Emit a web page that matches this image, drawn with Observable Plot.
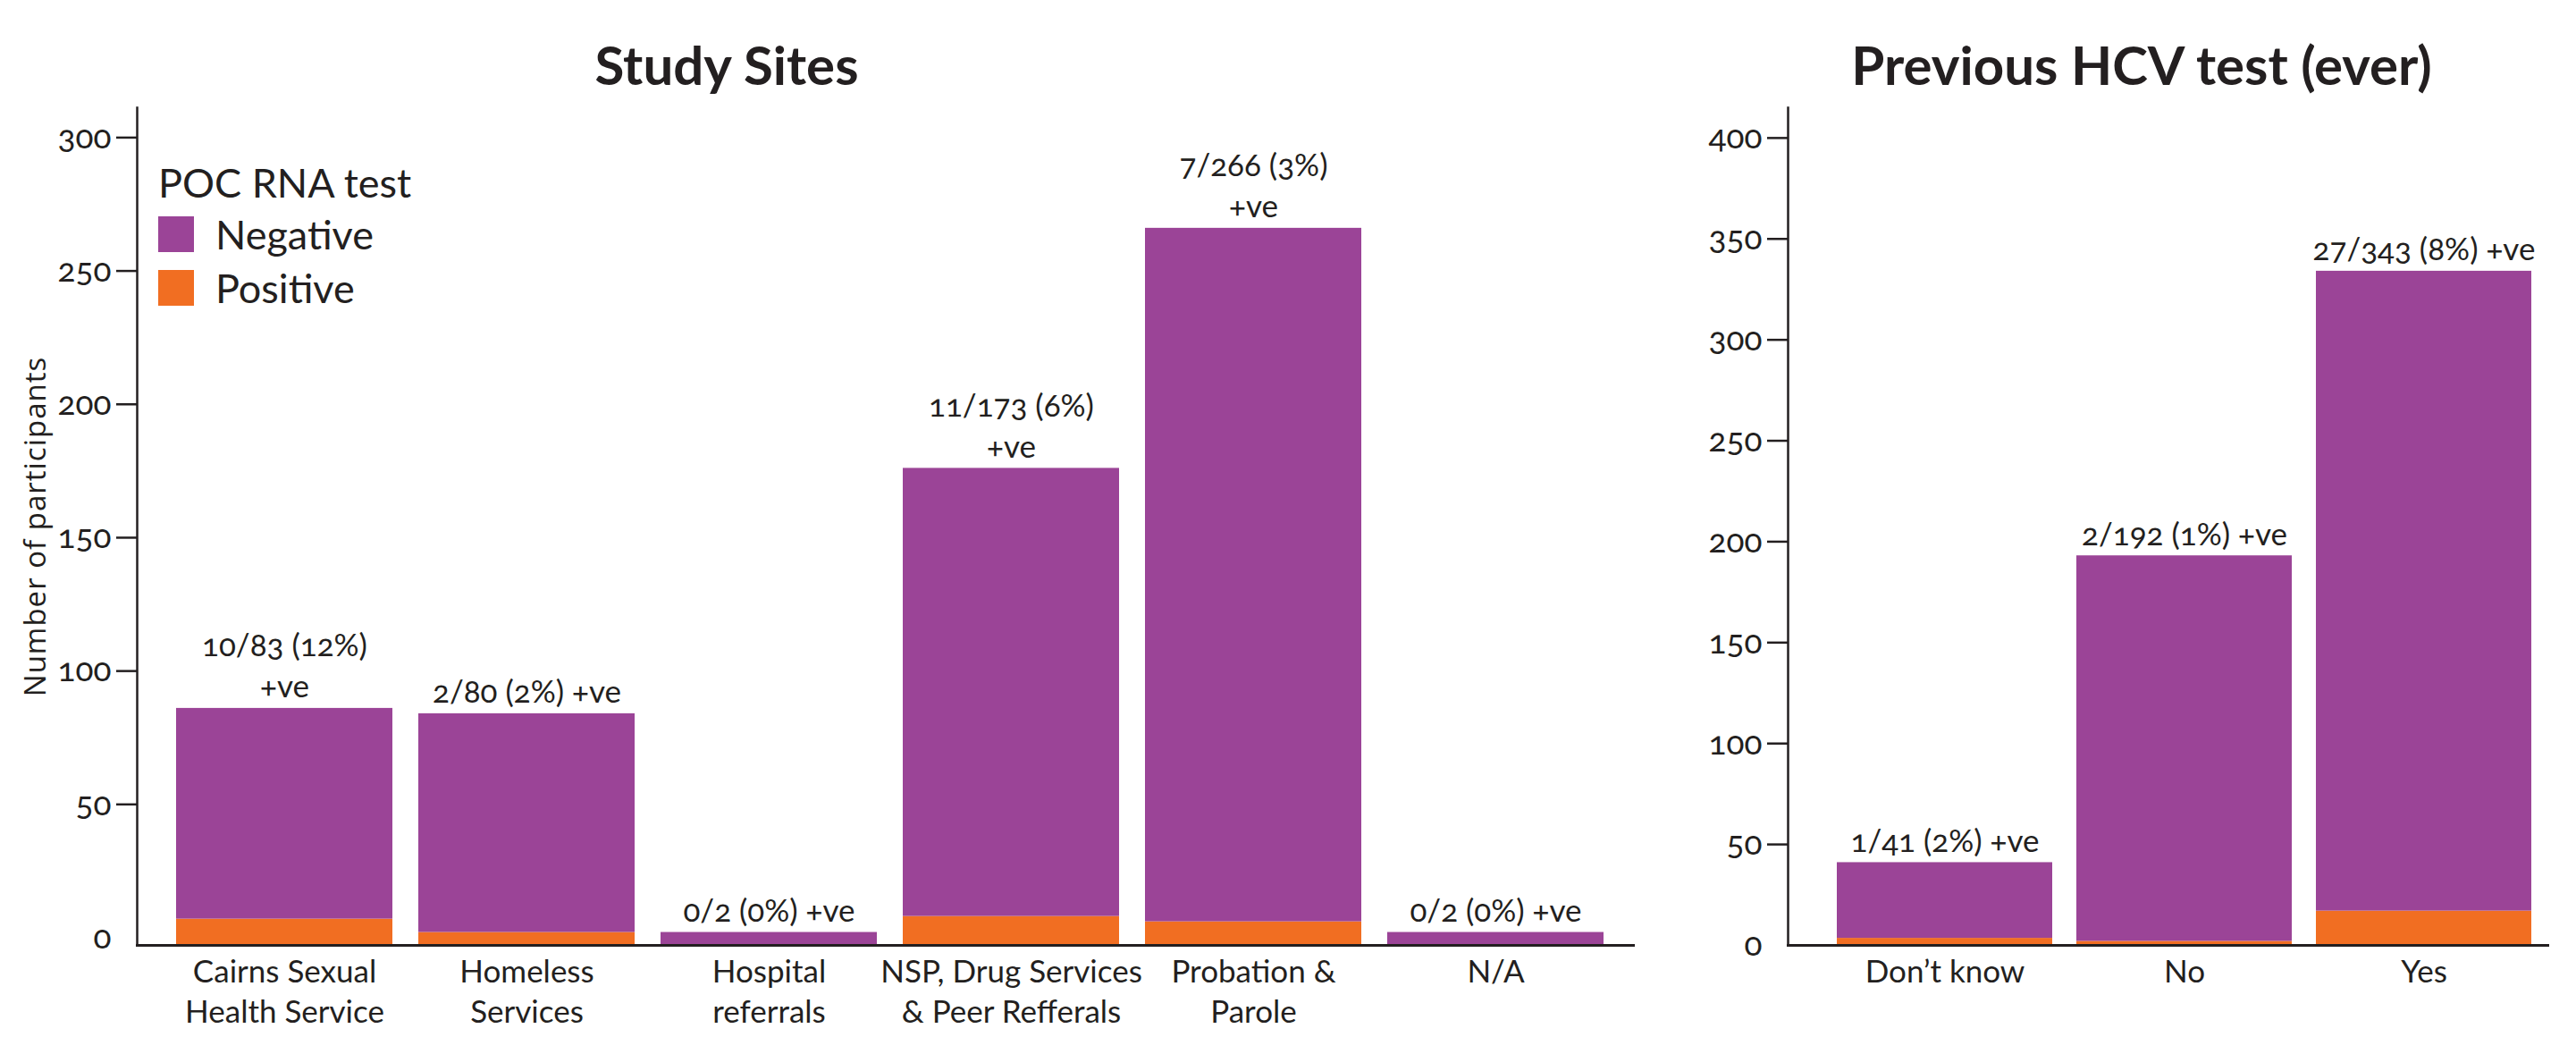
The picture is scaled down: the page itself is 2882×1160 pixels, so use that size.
<!DOCTYPE html>
<html>
<head>
<meta charset="utf-8">
<script src="https://cdn.jsdelivr.net/npm/d3@7"></script>
<script src="https://cdn.jsdelivr.net/npm/@observablehq/plot@0.6"></script>
<style>
  html, body { margin: 0; padding: 0; background: #ffffff; }
  #wrap { position: relative; width: 2882px; height: 1160px; overflow: hidden; font-family: Lato, sans-serif; color: #231f20; }
  .panel { position: absolute; top: 0; }
  .title { position: absolute; top: 42px; font-weight: 700; font-size: 60px; line-height: 1; text-align: center; white-space: nowrap; }
  .legend { position: absolute; left: 177px; top: 182px; font-size: 45px; line-height: 1; }
  .legend .lt { height: 50px; }
  .legend .row { display: flex; align-items: center; height: 60px; }
  .legend .sw { width: 40px; height: 40px; margin-right: 24px; }
</style>
</head>
<body>
<div id="wrap"></div>
<script>
// ---------- data ----------
const sites = ["Cairns Sexual\nHealth Service", "Homeless\nServices", "Hospital\nreferrals",
               "NSP, Drug Services\n& Peer Refferals", "Probation &\nParole", "N/A"];
const siteTotals    = [86, 84, 2, 176, 266, 2];
const sitePositives = [7, 2, 0, 8, 6, 0];
const siteLabels = ["10/83 (12%)\n+ve", "2/80 (2%) +ve", "0/2 (0%) +ve",
                    "11/173 (6%)\n+ve", "7/266 (3%)\n+ve", "0/2 (0%) +ve"];

const hcvGroups    = ["Don\u2019t know", "No", "Yes"];
const hcvTotals    = [41, 193, 334];
const hcvPositives = [3.5, 2, 17];
const hcvLabels    = ["1/41 (2%) +ve", "2/192 (1%) +ve", "27/343 (8%) +ve"];

const statusKeys   = ["Negative", "Positive"];
const statusColors = ["#9b4497", "#f16e22"];

const yTicksSites = [0, 50, 100, 150, 200, 250, 300];
const yTicksHcv   = [0, 50, 100, 150, 200, 250, 300, 350, 400];

const titleSites = "Study Sites";
const titleHcv   = "Previous HCV test (ever)";
const yLabelText = "Number of participants";
const legendTitle = "POC RNA test";

// ---------- drawing ----------
const ink = "#231f20";
const wrap = document.getElementById("wrap");

function panel({cats, totals, positives, labels, yDomain, yTicks, width, marginLeft, marginRight,
                paddingInner, paddingOuter, align, yLabel}) {
  const floor = yDomain[0];
  const rows = [];
  cats.forEach((c, i) => {
    if (positives[i] > 0) rows.push({cat: c, status: "Positive", y1: floor, y2: positives[i]});
    rows.push({cat: c, status: "Negative", y1: positives[i] > 0 ? positives[i] : floor, y2: totals[i]});
  });
  const labelRows = cats.map((c, i) => ({cat: c, total: totals[i], label: labels[i]}));
  const marks = [
    Plot.barY(rows, {x: "cat", y1: "y1", y2: "y2", fill: "status"}),
    Plot.frame({anchor: "left", stroke: ink, strokeWidth: 2.5}),
    Plot.frame({anchor: "bottom", stroke: ink, strokeWidth: 3}),
    Plot.axisY({ticks: yTicks.filter(v => v !== 0), tickSize: 23, tickFormat: () => "", strokeWidth: 2.5, label: null}),
    Plot.axisY({ticks: yTicks, tickSize: 0, tickPadding: 29, fontSize: 37, fontVariant: "oldstyle-nums", label: null}),
    Plot.axisX({tickSize: 0, tickPadding: 9, fontSize: 35, lineHeight: 1.29, label: null}),
    Plot.text(labelRows, {x: "cat", y: "total", text: "label", lineAnchor: "bottom", dy: -12,
                          fontSize: 35, lineHeight: 1.32, fontVariant: "oldstyle-nums", fill: ink})
  ];
  if (yLabel) {
    marks.push(Plot.text([yLabel], {text: d => d, frameAnchor: "left", textAnchor: "middle", rotate: -90,
                                    dx: -113, dy: 0, fontSize: 33, fontFamily: "Open Sans", fill: ink}));
  }
  return Plot.plot({
    width, height: 1160,
    marginLeft, marginRight, marginTop: 120, marginBottom: 103,
    style: {fontFamily: "Lato, sans-serif", color: ink, background: "transparent", overflow: "visible"},
    x: {domain: cats, paddingInner, paddingOuter, align, axis: null},
    y: {domain: yDomain, axis: null},
    color: {domain: statusKeys, range: statusColors},
    marks
  });
}

const left = panel({
  cats: sites, totals: siteTotals, positives: sitePositives, labels: siteLabels,
  yDomain: [-2.85, 311.2], yTicks: yTicksSites, width: 1880, marginLeft: 153, marginRight: 53,
  paddingInner: 0.1064, paddingOuter: 0.1367, align: 0.57, yLabel: yLabelText
});
left.classList.add("panel");
left.style.left = "0px";
wrap.appendChild(left);
// slightly widen the axis title's letter spacing
left.querySelectorAll("text").forEach(t => {
  if (t.textContent === yLabelText) t.style.letterSpacing = "1px";
});

const right = panel({
  cats: hcvGroups, totals: hcvTotals, positives: hcvPositives, labels: hcvLabels,
  yDomain: [0, 415], yTicks: yTicksHcv, width: 1002, marginLeft: 120, marginRight: 32,
  paddingInner: 0.1005, paddingOuter: 0.132, align: 0.75, yLabel: null
});
right.classList.add("panel");
right.style.left = "1880px";
wrap.appendChild(right);

// titles
function addTitle(text, center, w) {
  const d = document.createElement("div");
  d.className = "title";
  d.textContent = text;
  d.style.left = (center - w / 2) + "px";
  d.style.width = w + "px";
  wrap.appendChild(d);
}
addTitle(titleSites, 813, 500);
addTitle(titleHcv, 2396, 800);

// legend
const lg = document.createElement("div");
lg.className = "legend";
const lt = document.createElement("div");
lt.className = "lt";
lt.textContent = legendTitle;
lg.appendChild(lt);
statusKeys.forEach((k, i) => {
  const r = document.createElement("div");
  r.className = "row";
  const s = document.createElement("div");
  s.className = "sw";
  s.style.background = statusColors[i];
  const t = document.createElement("span");
  t.textContent = k;
  r.appendChild(s); r.appendChild(t);
  lg.appendChild(r);
});
wrap.appendChild(lg);
</script>
</body>
</html>
